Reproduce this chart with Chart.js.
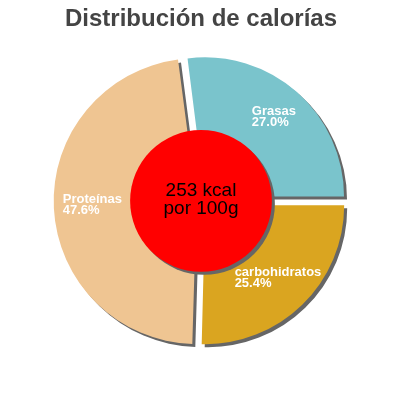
<!DOCTYPE html>
<html lang="es">
<head>
<meta charset="utf-8">
<title>Distribución de calorías</title>
<script src="https://cdn.jsdelivr.net/npm/chart.js"></script>
<style>
    body { margin: 0; background: #fff; }
</style>
</head>
<body>
<canvas id="chartCalorias" width="400" height="400"></canvas>
<script>
const categorias = ['Grasas', 'carbohidratos', 'Proteínas'];
const porcentajes = [27.0, 25.4, 47.6];
const kcal = 253;
const porcion = '100g';

const coresFatias = ['#7ac4cc', '#daa520', '#efc592'];
const fonte = "'Liberation Sans', Arial, sans-serif";

// sombra cinza + circulo vermelho central + rotulos dentro das fatias
const pluginDecoracao = {
    id: 'decoracao',
    beforeDatasetsDraw: (chart) => {
        const ctx = chart.ctx;
        ctx.save();
        ctx.shadowColor = '#666666';
        ctx.shadowOffsetX = 3;
        ctx.shadowOffsetY = 3;
        ctx.shadowBlur = 0;
    },
    afterDatasetsDraw: (chart) => {
        const ctx = chart.ctx;
        ctx.restore();

        const arcos = chart.getDatasetMeta(0).data;
        const cx = arcos[0].x;
        const cy = arcos[0].y;
        const raio = arcos[0].outerRadius;

        // circulo central
        ctx.save();
        ctx.shadowColor = '#666666';
        ctx.shadowOffsetX = 3;
        ctx.shadowOffsetY = 3;
        ctx.beginPath();
        ctx.arc(cx, cy, raio * 0.51, 0, Math.PI * 2);
        ctx.fillStyle = '#ff0000';
        ctx.fill();
        ctx.restore();

        ctx.save();
        ctx.fillStyle = '#000';
        ctx.font = `19px ${fonte}`;
        ctx.textAlign = 'center';
        ctx.textBaseline = 'alphabetic';
        ctx.fillText(`${kcal} kcal`, cx, cy - 5);
        ctx.fillText(`por ${porcion}`, cx, cy + 13.5);
        ctx.restore();

        // rotulos
        ctx.save();
        ctx.fillStyle = '#fff';
        ctx.font = `bold 13px ${fonte}`;
        ctx.textAlign = 'left';
        ctx.textBaseline = 'alphabetic';
        arcos.forEach((arco, i) => {
            const meio = (arco.startAngle + arco.endAngle) / 2;
            const desloc = (arco.options.offset || 0) / 4;
            const r = arco.outerRadius * 0.75 + desloc;
            const x = arco.x + Math.cos(meio) * r;
            const y = arco.y + Math.sin(meio) * r;
            const linhas = [categorias[i], `${porcentajes[i].toFixed(1)}%`];
            const largura = Math.max(...linhas.map(l => ctx.measureText(l).width));
            ctx.fillText(linhas[0], x - largura / 2, y - 3.5);
            ctx.fillText(linhas[1], x - largura / 2, y + 7.5);
        });
        ctx.restore();
    }
};

const showChartPie = () => {
    const ctx = document.getElementById('chartCalorias').getContext('2d');
    new Chart(ctx, {
        type: 'pie',
        data: {
            labels: categorias,
            datasets: [{
                label: 'Calorías',
                data: porcentajes,
                backgroundColor: coresFatias,
                borderWidth: 0,
                offset: [24, 24, 18],
                hoverOffset: 0
            }]
        },
        options: {
            responsive: false,
            animation: false,
            rotation: 90 - porcentajes[0] * 3.6, // Grasas termina em 3 horas
            layout: {
                padding: { left: 50, right: 48, top: 0, bottom: 48 }
            },
            plugins: {
                legend: { display: false },
                tooltip: { enabled: false },
                title: {
                    display: true,
                    text: 'Distribución de calorías',
                    color: '#444444',
                    font: { family: fonte, size: 24, weight: 'bold' },
                    padding: { top: 5, bottom: 16 }
                }
            }
        },
        plugins: [pluginDecoracao]
    });
}

document.addEventListener('DOMContentLoaded', showChartPie);
</script>
</body>
</html>
